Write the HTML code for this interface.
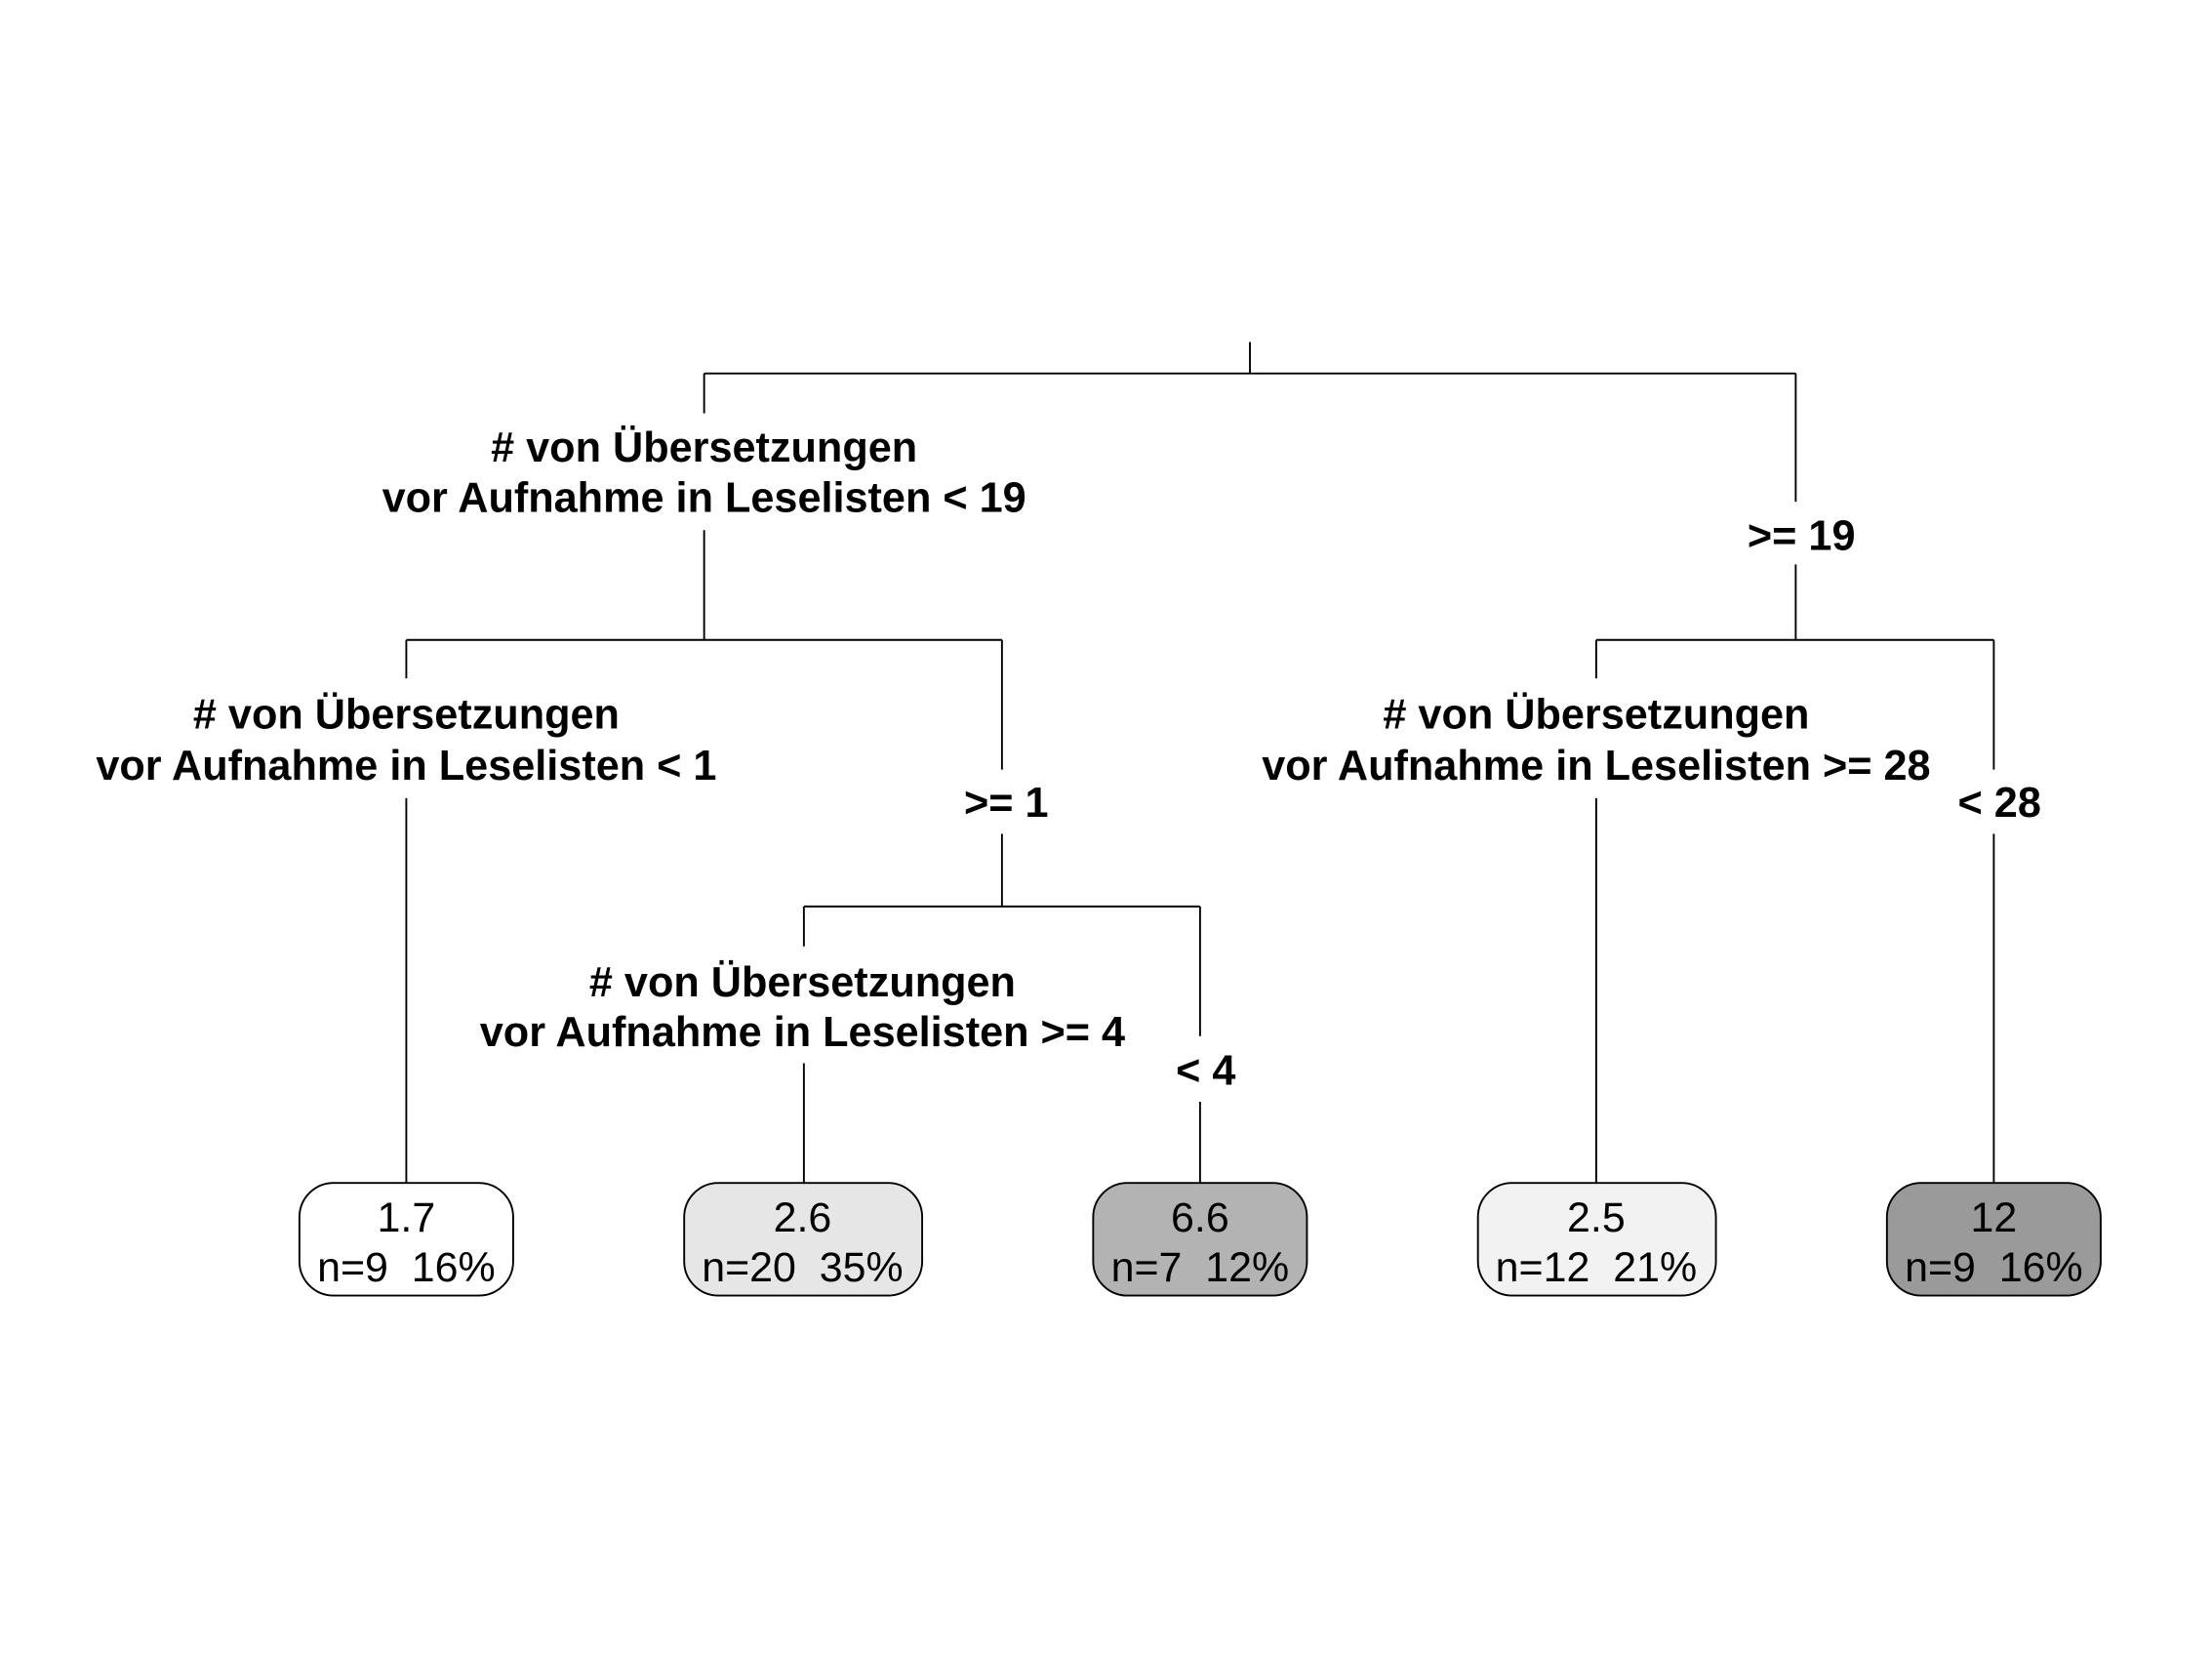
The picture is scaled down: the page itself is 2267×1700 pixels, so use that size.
<!DOCTYPE html>
<html><head><meta charset="utf-8"><style>
html,body{margin:0;padding:0;background:#fff;width:2267px;height:1700px;overflow:hidden}
svg{display:block}
.b{font-family:"Liberation Sans",sans-serif;font-weight:bold;font-size:29.6px;text-anchor:middle;fill:#000;white-space:pre}
.r{font-family:"Liberation Sans",sans-serif;font-size:29.4px;text-anchor:middle;fill:#000;white-space:pre}
line{stroke:#000;stroke-width:1.3}
rect.n{stroke:#000;stroke-width:1.3}
</style></head><body>
<svg width="2267" height="1700" viewBox="0 0 1552 1164" xmlns="http://www.w3.org/2000/svg">
<line x1="877" y1="240" x2="877" y2="262"/>
<line x1="494" y1="262" x2="1260" y2="262"/>
<line x1="494" y1="262" x2="494" y2="290"/>
<line x1="494" y1="372" x2="494" y2="449"/>
<line x1="285" y1="449" x2="703" y2="449"/>
<line x1="1260" y1="262" x2="1260" y2="352"/>
<line x1="1260" y1="396" x2="1260" y2="449"/>
<line x1="1120" y1="449" x2="1399" y2="449"/>
<line x1="285" y1="449" x2="285" y2="476"/>
<line x1="285" y1="560" x2="285" y2="830"/>
<line x1="703" y1="449" x2="703" y2="540"/>
<line x1="703" y1="585" x2="703" y2="636"/>
<line x1="564" y1="636" x2="842" y2="636"/>
<line x1="564" y1="636" x2="564" y2="664"/>
<line x1="564" y1="746" x2="564" y2="830"/>
<line x1="842" y1="636" x2="842" y2="727"/>
<line x1="842" y1="773" x2="842" y2="830"/>
<line x1="1120" y1="449" x2="1120" y2="476"/>
<line x1="1120" y1="560" x2="1120" y2="830"/>
<line x1="1399" y1="449" x2="1399" y2="540"/>
<line x1="1399" y1="585" x2="1399" y2="830"/>

<text class="b" x="494" y="324"># von Übersetzungen</text>
<text class="b" x="494" y="359">vor Aufnahme in Leselisten &lt; 19</text>
<text class="b" x="1264" y="386">&gt;= 19</text>
<text class="b" x="285" y="511"># von Übersetzungen</text>
<text class="b" x="285" y="547">vor Aufnahme in Leselisten &lt; 1</text>
<text class="b" x="706" y="573">&gt;= 1</text>
<text class="b" x="563" y="699"># von Übersetzungen</text>
<text class="b" x="563" y="734">vor Aufnahme in Leselisten &gt;= 4</text>
<text class="b" x="846" y="761">&lt; 4</text>
<text class="b" x="1120" y="511"># von Übersetzungen</text>
<text class="b" x="1120" y="547">vor Aufnahme in Leselisten &gt;= 28</text>
<text class="b" x="1403" y="573">&lt; 28</text>

<rect class="n" x="210" y="830" width="150" height="79" rx="24" fill="#ffffff"/>
<text class="r" x="285" y="864">1.7</text><text class="r" x="285" y="899" xml:space="preserve">n=9  16%</text>
<rect class="n" x="480" y="830" width="167" height="79" rx="24" fill="#e6e6e6"/>
<text class="r" x="563" y="864">2.6</text><text class="r" x="563" y="899" xml:space="preserve">n=20  35%</text>
<rect class="n" x="767" y="830" width="150" height="79" rx="24" fill="#b3b3b3"/>
<text class="r" x="842" y="864">6.6</text><text class="r" x="842" y="899" xml:space="preserve">n=7  12%</text>
<rect class="n" x="1037" y="830" width="167" height="79" rx="24" fill="#f2f2f2"/>
<text class="r" x="1120" y="864">2.5</text><text class="r" x="1120" y="899" xml:space="preserve">n=12  21%</text>
<rect class="n" x="1324" y="830" width="150" height="79" rx="24" fill="#9a9a9a"/>
<text class="r" x="1399" y="864">12</text><text class="r" x="1399" y="899" xml:space="preserve">n=9  16%</text>
</svg>
</body></html>
